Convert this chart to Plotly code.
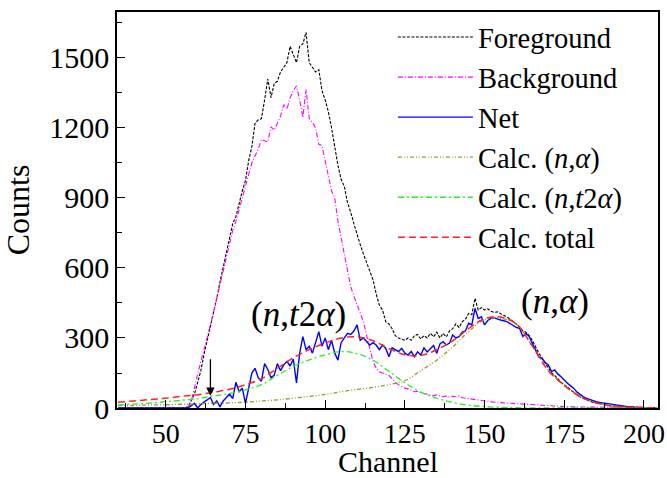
import plotly.graph_objects as go

# ---------------- data ----------------
channels = list(range(35, 205))  # one point per channel

foreground = [
    0, 0, 0, 0, 0, 0, 0, 0, 0, 0,
    0, 0, 0, 0, 0, 0, 0, 0, 0, 0,
    0, 0, 5, 30, 60, 110, 160, 230, 290, 345,
    410, 470, 540, 600, 670, 730, 790, 820, 880, 930,
    975, 1060, 1120, 1220, 1235, 1240, 1320, 1410, 1330, 1390,
    1400, 1440, 1460, 1480, 1550, 1510, 1480, 1550, 1560, 1610,
    1480, 1460, 1440, 1450, 1360, 1320, 1270, 1200, 1120, 1040,
    980, 950, 880, 840, 790, 740, 700, 660, 620, 580,
    550, 490, 440, 420, 370, 360, 340, 310, 300, 295,
    290, 300, 290, 310, 315, 295, 310, 300, 320, 305,
    325, 300, 320, 305, 330, 340, 360, 345, 370, 380,
    405, 400, 470, 420, 430, 420, 425, 415, 410, 412,
    405, 400, 390, 380, 370, 360, 345, 330, 325, 310,
    290, 260, 235, 215, 195, 170, 150, 140, 125, 110,
    100, 88, 76, 66, 56, 47, 40, 34, 29, 24,
    21, 18, 15, 13, 11, 9, 8, 7, 6, 5,
    5, 4, 4, 3, 3, 2, 2, 2, 1, 1,
]

background = [
    0, 0, 0, 0, 0, 0, 0, 0, 0, 0,
    0, 0, 0, 0, 0, 0, 0, 0, 0, 0,
    0, 0, 0, 30, 90, 150, 200, 250, 300, 350,
    410, 470, 530, 590, 650, 710, 760, 800, 850, 910,
    960, 1010, 1050, 1080, 1110, 1150, 1145, 1140, 1205, 1190,
    1220, 1250, 1300, 1280, 1330, 1360, 1380, 1320, 1245, 1365,
    1240, 1225, 1200, 1130, 1125, 1060, 980, 930, 900, 800,
    730, 660, 580, 520, 480, 445, 410, 370, 310, 255,
    200, 170, 155, 150, 145, 140, 125, 110, 100, 92,
    85, 82, 75, 70, 72, 64, 62, 60, 55, 52,
    56, 50, 48, 52, 47, 50, 48, 52, 44, 42,
    40, 36, 35, 33, 31, 30, 28, 27, 25, 26,
    23, 22, 21, 20, 19, 18, 17, 16, 15, 14,
    14, 13, 13, 12, 11, 10, 9, 9, 8, 7,
    6, 6, 5, 5, 5, 4, 4, 4, 4, 3,
    3, 3, 3, 3, 3, 2, 2, 2, 2, 2,
    2, 2, 2, 2, 2, 2, 2, 2, 2, 2,
]

net = [
    0, 0, 0, 0, 0, 0, 0, 0, 0, 0,
    0, 0, 0, 0, 0, 0, 0, 0, 0, 0,
    0, 0, 0, 10, 20, 0, 15, 25, 35, 45,
    15, 30, 5, 30, 45, 60, 40, 110, 70, 85,
    20, 80, 150, 170, 130, 115, 190, 165, 130, 140,
    190, 160, 185, 200, 180, 210, 107, 235, 306, 250,
    265, 235, 285, 327, 265, 300, 250, 290, 235, 205,
    280, 300, 320, 315, 330, 356, 290, 300, 285, 270,
    280, 270, 250, 270, 255, 220, 258, 250, 242, 256,
    235, 227, 242, 220, 241, 227, 258, 240, 256, 268,
    234, 275, 284, 270, 278, 313, 300, 306, 325, 330,
    363, 356, 427, 384, 391, 356, 375, 384, 386, 380,
    377, 374, 370, 362, 352, 345, 341, 306, 320, 306,
    277, 250, 220, 213, 195, 184, 156, 163, 145, 134,
    118, 106, 95, 84, 68, 56, 48, 41, 36, 30,
    27, 24, 22, 20, 16, 13, 13, 10, 8, 6,
    5, 4, 3, 2, 1, 0, 2, 0, 1, 0,
]

calc_channels = [35, 40, 45, 50, 55, 60, 65, 70, 75, 80, 85, 90, 95, 100, 105,
                 110, 115, 120, 125, 130, 135, 140, 145, 150, 155, 160, 165,
                 170, 175, 180, 185, 190, 195, 200, 205]
calc_n_alpha = [10, 11, 13, 14, 16, 18, 20, 22, 25, 30, 35, 42, 50, 58, 70,
                80, 88, 100, 117, 160, 205, 262, 327, 378, 385, 358, 265,
                160, 97, 49, 22, 8, 3, 1, 0]
calc_n_t2alpha = [13, 17, 21, 27, 33, 40, 52, 62, 78, 100, 140, 178, 206, 228, 242,
                  233, 205, 157, 108, 68, 42, 24, 12, 6, 3, 1, 0,
                  0, 0, 0, 0, 0, 0, 0, 0]
calc_total = [25, 30, 36, 42, 50, 57, 68, 80, 100, 125, 170, 215, 250, 278, 300,
              305, 288, 255, 228, 225, 250, 288, 340, 383, 390, 360, 265,
              160, 97, 49, 22, 8, 3, 1, 0]

x_ticks = [50, 75, 100, 125, 150, 175, 200]
y_ticks = [0, 300, 600, 900, 1200, 1500]

# ---------------- figure ----------------
FONT = "Liberation Serif"
fig = go.Figure()

fig.add_trace(go.Scatter(x=channels, y=foreground, mode="lines", name="Foreground",
                         line=dict(color="black", width=1.1, dash="3px,1.5px")))
fig.add_trace(go.Scatter(x=channels, y=background, mode="lines", name="Background",
                         line=dict(color="#ff00ff", width=1.1, dash="5px,2px,1px,2px")))
fig.add_trace(go.Scatter(x=channels, y=net, mode="lines", name="Net",
                         line=dict(color="#0000ff", width=1.4)))
fig.add_trace(go.Scatter(x=calc_channels, y=calc_n_alpha, mode="lines",
                         name="Calc. (<i>n</i>,<i>α</i>)", line_shape="spline",
                         line=dict(color="#999922", width=1.3, dash="4px,2px,1px,2px,1px,2px")))
fig.add_trace(go.Scatter(x=calc_channels, y=calc_n_t2alpha, mode="lines",
                         name="Calc. (<i>n</i>,<i>t</i>2<i>α</i>)", line_shape="spline",
                         line=dict(color="#22ee22", width=1.3, dash="6px,3px,2px,3px")))
fig.add_trace(go.Scatter(x=calc_channels, y=calc_total, mode="lines",
                         name="Calc. total", line_shape="spline",
                         line=dict(color="#ff2222", width=1.5, dash="7px,4px")))

fig.add_annotation(x=91.5, y=400, text="(<i>n</i>,<i>t</i>2<i>α</i>)", showarrow=False,
                   font=dict(family=FONT, size=35, color="black"))
fig.add_annotation(x=172, y=455, text="(<i>n</i>,<i>α</i>)", showarrow=False,
                   font=dict(family=FONT, size=35, color="black"))
fig.add_annotation(x=64, y=52, ax=64, ay=215, axref="x", ayref="y", xref="x", yref="y",
                   text="", showarrow=True, arrowhead=2, arrowsize=1.3, arrowwidth=1.3,
                   arrowcolor="black")
# x-axis title placed as paper-anchored text below the tick labels
fig.add_annotation(x=0.5, y=-0.136, xref="paper", yref="paper", text="Channel",
                   showarrow=False, xanchor="center", yanchor="middle", borderpad=0,
                   font=dict(family=FONT, size=30, color="black"))

fig.update_xaxes(range=[34.7, 204.4], tickvals=x_ticks, ticks="inside", ticklen=8,
                 tickwidth=1.3, tickcolor="black", showline=True, linecolor="black",
                 linewidth=1.5, mirror=True, showgrid=False, zeroline=False,
                 automargin=False,
                 minor=dict(dtick=12.5, tick0=37.5, ticks="inside", ticklen=5,
                            tickwidth=1.3, tickcolor="black", showgrid=False),
                 tickfont=dict(family=FONT, size=28, color="black"))
fig.update_yaxes(range=[0, 1697], tickvals=y_ticks, ticks="inside", ticklen=8,
                 tickwidth=1.3, tickcolor="black", showline=True, linecolor="black",
                 linewidth=1.5, mirror=True, showgrid=False, zeroline=False,
                 automargin=False,
                 minor=dict(dtick=150, tick0=150, ticks="inside", ticklen=5,
                            tickwidth=1.3, tickcolor="black", showgrid=False),
                 tickfont=dict(family=FONT, size=30, color="black"),
                 title=dict(text="Counts", font=dict(family=FONT, size=32, color="black")))

fig.update_layout(
    width=667, height=478,
    margin=dict(l=117, r=9, t=12, b=70),
    plot_bgcolor="white", paper_bgcolor="white",
    font=dict(family=FONT, color="black"),
    legend=dict(x=0.51, y=1.0, xanchor="left", yanchor="top",
                bgcolor="rgba(0,0,0,0)", borderwidth=0,
                font=dict(family=FONT, size=28.5, color="black"),
                itemwidth=75, tracegroupgap=0),
)

fig.write_html("out.html")
